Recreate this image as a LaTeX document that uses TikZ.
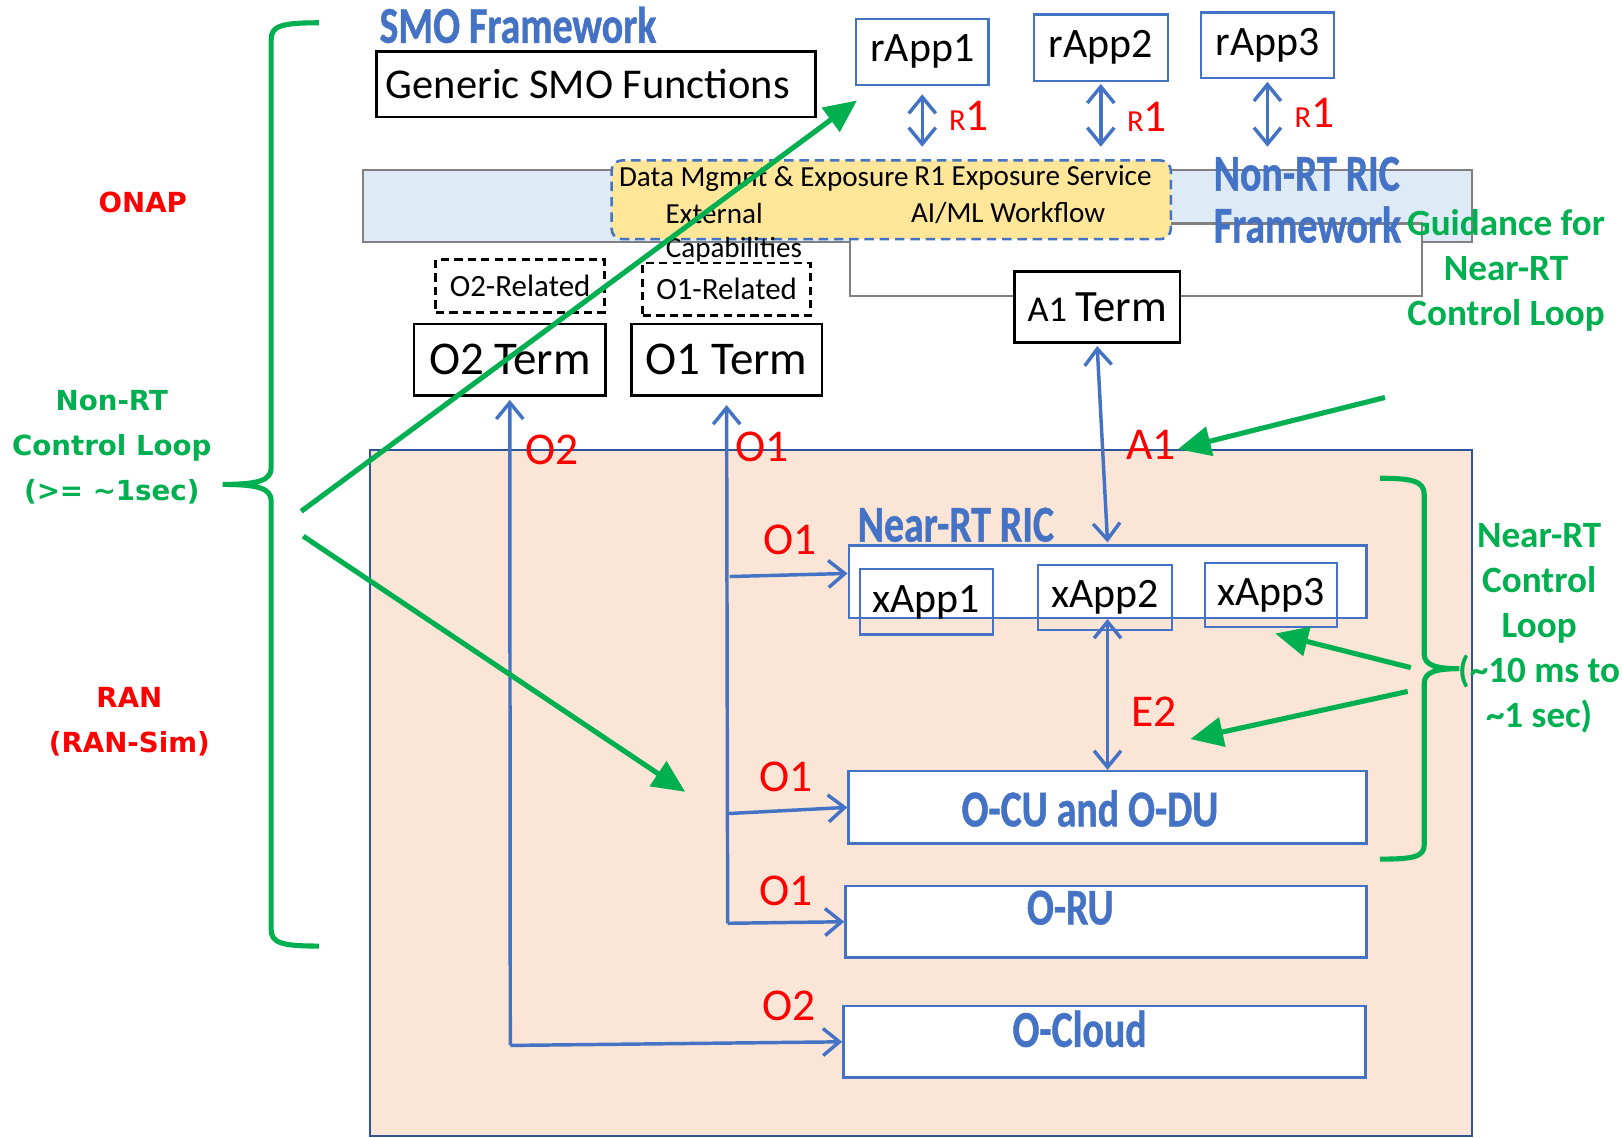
\documentclass[tikz,border=0pt]{standalone}
\usepackage{fontspec}
\setmainfont{Carlito}
\newfontfamily\narrowfont[FakeStretch=0.77,FakeBold=0.8]{Carlito}
\newfontfamily\widefont{DejaVu Sans}
\usetikzlibrary{arrows.meta}

\definecolor{oblue}{HTML}{4472C4}
\definecolor{ranedge}{HTML}{2F5597}
\definecolor{ored}{HTML}{FF0000}
\definecolor{ogreen}{HTML}{00B050}
\definecolor{peach}{HTML}{FBE5D6}
\definecolor{paleblue}{HTML}{DEEBF7}
\definecolor{pyellow}{HTML}{FFE699}
\definecolor{bandgray}{HTML}{808080}

\begin{document}
\begin{tikzpicture}[x=0.01cm, y=-0.01cm,
  >={Straight Barb[length=4.5pt,width=7.4pt]},
  conn/.style={draw=oblue, line width=0.95pt},
  gconn/.style={draw=ogreen, line width=1.4pt, -{Triangle[length=9pt,width=8pt]}},
  brace/.style={draw=ogreen, line width=1.4pt},
  blk/.style={draw=black, line width=0.75pt, fill=white, inner sep=0pt},
  dashblk/.style={draw=black, line width=0.75pt, dash pattern=on 2.3pt off 1.4pt, inner sep=0pt},
  bbox/.style={draw=oblue, line width=0.6pt, inner sep=0pt},
  wbox/.style={bbox, fill=white},
  plain/.style={inner sep=0pt},
  lbl/.style={plain, text=ored, font=\fontsize{12.5}{15}\selectfont},
  hdr/.style={plain, text=oblue, font=\narrowfont\bfseries\fontsize{14.2}{17}\selectfont},
  note/.style={plain, text=ogreen, font=\bfseries\fontsize{10.2}{12.4}\selectfont, align=center},
  side/.style={plain, font=\widefont\bfseries\fontsize{7.6}{12.4}\selectfont, align=center},
  apptxt/.style={font=\fontsize{11.5}{14}\selectfont},
  termtxt/.style={font=\fontsize{12.9}{15}\selectfont},
  smalltxt/.style={plain, font=\fontsize{8}{10}\selectfont},
  reltxt/.style={font=\fontsize{8.5}{10}\selectfont}
]
\useasboundingbox (0,0) rectangle (1568,1099);

% ---------- RAN area ----------
\node[draw=ranedge, fill=peach, line width=0.6pt, minimum width=10.64cm, minimum height=6.62cm, plain] (ran) at (890,766) {};

% ---------- Non-RT RIC framework ----------
\node[draw=bandgray, fill=paleblue, line width=0.6pt, minimum width=10.71cm, minimum height=0.70cm, plain] (band) at (886.5,199) {};
\node[draw=bandgray, fill=white, line width=0.6pt, minimum width=5.53cm, minimum height=0.70cm, plain] (panel) at (1097.5,251) {};
\node[draw=oblue, fill=pyellow, line width=0.7pt, dash pattern=on 2.6pt off 1.6pt, rounded corners=0.1cm,
      minimum width=5.40cm, minimum height=0.76cm, plain] (expo) at (861,193) {};
\node[smalltxt] (dm) at (738,173) {Data Mgmnt \& Exposure};
\node[smalltxt] (r1es) at (998,172) {R1 Exposure Service};
\node[smalltxt] (ext) at (690,206) {External};
\node[smalltxt] (aiml) at (974,206) {AI/ML Workflow};
\node[smalltxt] (cap) at (709,241) {Capabilities};

\node[hdr, anchor=west] (nonrt) at (1172,168) {Non-RT RIC};
\node[hdr, anchor=west] (nonrtfw) at (1172,217) {Framework};
\node[note] (guide) at (1455,261) {Guidance for\\Near-RT\\Control Loop};

% ---------- SMO ----------
\node[hdr, anchor=west] (smo) at (366,24) {SMO Framework};
\node[blk, minimum width=4.24cm, minimum height=0.63cm,
      font=\fontsize{11.66}{14}\selectfont] (gsmo) at (576,81.5) {Generic SMO Functions\kern0.16cm};

\node[wbox, apptxt, minimum width=1.28cm, minimum height=0.64cm] (rapp1) at (891,50) {rApp1};
\node[wbox, apptxt, minimum width=1.29cm, minimum height=0.64cm] (rapp2) at (1063.5,46) {rApp2};
\node[wbox, apptxt, minimum width=1.29cm, minimum height=0.63cm] (rapp3) at (1224.5,43.5) {rApp3};

\draw[conn, <->] ([yshift=-0.08cm]rapp1.south) -- ([yshift=0.12cm]rapp1.south |- expo.north);
\draw[conn, <->] ([yshift=-0.02cm]rapp2.south) -- ([yshift=0.12cm]rapp2.south |- expo.north);
\draw[conn, <->] ([yshift=-0.03cm]rapp3.south) -- ([yshift=0.12cm]rapp3.south |- expo.north);
\node[lbl] (r1a) at (936,112) {{\fontsize{8.4}{10}\selectfont R}1};
\node[lbl] (r1b) at (1108,113) {{\fontsize{8.4}{10}\selectfont R}1};
\node[lbl] (r1c) at (1270,109) {{\fontsize{8.4}{10}\selectfont R}1};

% ---------- terminations ----------
\node[dashblk, reltxt, minimum width=1.63cm, minimum height=0.51cm] (o2rel) at (502.5,276.5) {O2-Related};
\node[dashblk, reltxt, minimum width=1.62cm, minimum height=0.51cm] (o1rel) at (702,279.5) {O1-Related};
\node[blk, termtxt, minimum width=1.85cm, minimum height=0.69cm] (o2term) at (492.5,347.5) {O2 Term};
\node[blk, termtxt, minimum width=1.84cm, minimum height=0.69cm] (o1term) at (702,347.5) {O1 Term};
\node[blk, minimum width=1.60cm, minimum height=0.69cm] (a1term) at (1060,296.5)
  {{\fontsize{10}{12}\selectfont A1} {\fontsize{12.3}{14}\selectfont Term}};

% ---------- Near-RT RIC and RAN nodes ----------
\node[hdr, anchor=west] (nrtlbl) at (828,507) {Near-RT RIC};
\node[wbox, minimum width=5.00cm, minimum height=0.70cm] (nearrt) at (1070,562) {};
\node[bbox, apptxt, minimum width=1.28cm, minimum height=0.63cm] (xapp1) at (895,581.5) {xApp1};
\node[bbox, apptxt, minimum width=1.29cm, minimum height=0.63cm] (xapp2) at (1067.5,577.5) {xApp2};
\node[bbox, apptxt, minimum width=1.28cm, minimum height=0.62cm] (xapp3) at (1228,575) {xApp3};

\node[wbox, line width=0.7pt, minimum width=5.00cm, minimum height=0.70cm] (ocu) at (1070,780) {};
\node[hdr] (ocutxt) at (1053,781) {O-CU and O-DU};
\node[wbox, line width=0.7pt, minimum width=5.03cm, minimum height=0.69cm] (oru) at (1068.5,890.5) {};
\node[hdr] (orutxt) at (1034,877) {O-RU};
\node[wbox, line width=0.7pt, minimum width=5.04cm, minimum height=0.69cm] (ocloud) at (1067,1006.5) {};
\node[hdr] (ocloudtxt) at (1043,994) {O-Cloud};

% ---------- interfaces ----------
\coordinate (o2bot) at (493,1010);
\coordinate (o1bot) at (703,892);
\coordinate (o1mid) at (703,786);
\coordinate (o1top) at (705,557);

\draw[conn, ->] (o2bot) -- ([yshift=-0.03cm]o2term.south);
\draw[conn, ->] (o2bot) -- (ocloud.west);
\draw[conn, ->] (o1bot) -- ([yshift=-0.08cm]o1term.south);
\draw[conn, ->] (o1top) -- ([yshift=0.08cm]nearrt.west);
\draw[conn, ->] (o1mid) -- (ocu.west);
\draw[conn, ->] (o1bot) -- (oru.west);
\draw[conn, <->] ([yshift=-0.02cm]a1term.south) -- ([yshift=0.02cm]nearrt.north);
\draw[conn, <->] (nearrt.south) -- (ocu.north);

\node[lbl] (lo2a) at (533,435) {O2};
\node[lbl] (lo1a) at (736,432) {O1};
\node[lbl] (la1) at (1112,430) {A1};
\node[lbl] (lo1b) at (763,522) {O1};
\node[lbl] (lo1c) at (759,751) {O1};
\node[lbl] (lo1d) at (759,861) {O1};
\node[lbl] (lo2b) at (762,972) {O2};
\node[lbl] (le2) at (1115,688) {E2};

% ---------- control loops ----------
\draw[brace] (308,22) .. controls (272,22) and (262,25) .. (262,38) -- (262,452)
  .. controls (262,464) and (250,468) .. (215,468)
  .. controls (250,468) and (262,472) .. (262,484) -- (262,898)
  .. controls (262,911) and (272,914) .. (308,914);
\draw[brace] (1333,462) .. controls (1365,462) and (1376,465) .. (1376,478) -- (1376,632)
  .. controls (1376,643) and (1388,646) .. (1410,646)
  .. controls (1388,646) and (1376,649) .. (1376,660) -- (1376,816)
  .. controls (1376,828) and (1365,830) .. (1333,830);

\coordinate (g1s) at (291,494);  \coordinate (g1e) at (828,97);
\coordinate (g2s) at (293,518);  \coordinate (g2e) at (662,765);
\coordinate (g3s) at (1338,384); \coordinate (g3e) at (1138,434);
\coordinate (g4s) at (1363,645); \coordinate (g4e) at (1232,612);
\coordinate (g5s) at (1360,668); \coordinate (g5e) at (1150,714);
\draw[gconn] (g1s) -- (g1e);
\draw[gconn] (g2s) -- (g2e);
\draw[gconn] (g3s) -- (g3e);
\draw[gconn] (g4s) -- (g4e);
\draw[gconn] (g5s) -- (g5e);

\node[side, text=ored] (onap) at (138,196) {ONAP};
\node[side, text=ogreen] (nonrtloop) at (108,432) {Non-RT\\Control Loop\\(>= \textasciitilde 1sec)};
\node[side, text=ored] (ransim) at (125,697.5) {RAN\\(RAN-Sim)};
\node[note] (nearloop) at (1487,607) {Near-RT\\Control\\Loop\\(\textasciitilde 10 ms to\\\textasciitilde 1 sec)};
\end{tikzpicture}
\end{document}
